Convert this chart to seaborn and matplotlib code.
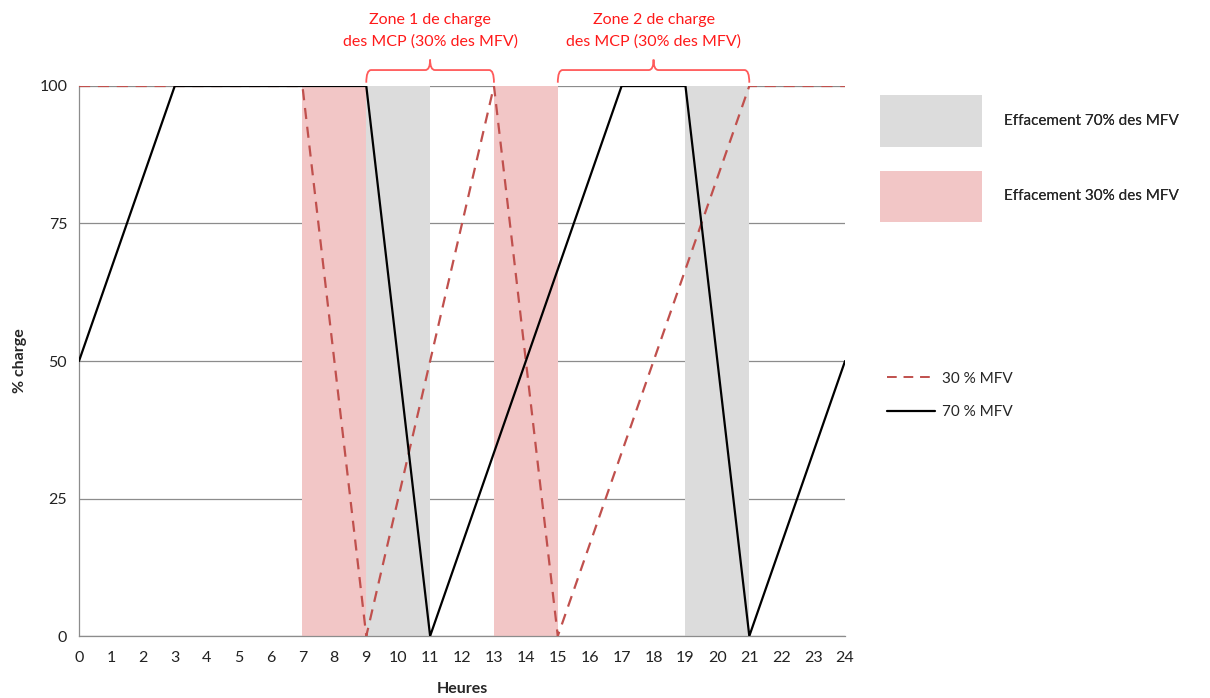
import matplotlib
matplotlib.use('Agg')
import matplotlib.pyplot as plt
from matplotlib.path import Path
from matplotlib.patches import PathPatch, Patch
from matplotlib.lines import Line2D
import seaborn as sns
import pandas as pd

# Données : % de charge selon l'heure
heures_70 = [0, 3, 9, 11, 17, 19, 21, 24]
charge_70 = [50, 100, 100, 0, 100, 100, 0, 50]
heures_30 = [0, 7, 9, 13, 15, 21, 24]
charge_30 = [100, 100, 0, 100, 0, 100, 100]

# Zones d'effacement (début, fin)
effacement_30 = [(7, 9), (13, 15)]
effacement_70 = [(9, 11), (19, 21)]

# Zones de charge des MCP (accolades)
zones_charge = [(9, 13, "Zone 1 de charge\ndes MCP (30% des MFV)"),
                (15, 21, "Zone 2 de charge\ndes MCP (30% des MFV)")]

sns.set_style("white")
plt.rcParams['font.family'] = ['Lato', 'DejaVu Sans']

rouge_fond = '#f2c6c6'
gris_fond = '#dcdcdc'
rouge_ligne = '#c0504d'
tirets = (0, (5, 3.5))

fig = plt.figure(figsize=(12.1, 6.98), dpi=100)
ax = fig.add_axes([0.0653, 0.0888, 0.6331, 0.7880])

for debut, fin in effacement_30:
    ax.axvspan(debut, fin, color=rouge_fond, lw=0, zorder=1)
for debut, fin in effacement_70:
    ax.axvspan(debut, fin, color=gris_fond, lw=0, zorder=1)

df_70 = pd.DataFrame({'Heures': heures_70, 'charge': charge_70})
df_30 = pd.DataFrame({'Heures': heures_30, 'charge': charge_30})

sns.lineplot(data=df_30, x='Heures', y='charge', ax=ax, color=rouge_ligne,
             lw=1.6, linestyle=tirets, zorder=3)
sns.lineplot(data=df_70, x='Heures', y='charge', ax=ax, color='black',
             lw=1.6, zorder=4)

ax.set_xlim(0, 24)
ax.set_ylim(0, 100)
ax.set_xticks(range(0, 25))
ax.set_yticks([0, 25, 50, 75, 100])
ax.yaxis.grid(True, color='#8c8c8c', lw=0.9, zorder=0)
ax.set_axisbelow(True)
for cote in ['top', 'right']:
    ax.spines[cote].set_visible(False)
for cote in ['left', 'bottom']:
    ax.spines[cote].set_color('#8c8c8c')
    ax.spines[cote].set_linewidth(0.9)
ax.tick_params(axis='both', direction='out', length=5, width=0.9,
               color='#8c8c8c', labelsize=11.5, labelcolor='#222222')
ax.tick_params(axis='x', pad=6)
ax.set_xlabel('Heures', fontsize=11.5, fontweight='bold', labelpad=12)
ax.set_ylabel('% charge', fontsize=11.5, fontweight='bold', labelpad=9)

# Accolades et textes des zones de charge
for x0, x1, texte in zones_charge:
    xc = (x0 + x1) / 2
    yb, yh, yp = 100.6, 102.9, 104.8
    d = 0.15
    sommets = [(x0, yb), (x0, yh), (x0 + d, yh),
               (xc - d, yh), (xc, yh), (xc, yp),
               (xc, yh), (xc + d, yh),
               (x1 - d, yh), (x1, yh), (x1, yb)]
    codes = [Path.MOVETO, Path.CURVE3, Path.CURVE3,
             Path.LINETO, Path.CURVE3, Path.CURVE3,
             Path.CURVE3, Path.CURVE3,
             Path.LINETO, Path.CURVE3, Path.CURVE3]
    ax.add_patch(PathPatch(Path(sommets, codes), fill=False, ec='#ff5a5a',
                           lw=1.3, clip_on=False, zorder=5))
    ax.text(xc, 110.0, texte, ha='center', va='center', color='#ff1a1a',
            fontsize=11.5, linespacing=1.6, clip_on=False)

# Légendes
poignees_zones = [Patch(facecolor=gris_fond, edgecolor='none'),
                  Patch(facecolor=rouge_fond, edgecolor='none')]
leg1 = fig.legend(poignees_zones,
                  ['Effacement 70% des MFV', 'Effacement 30% des MFV'],
                  loc='upper left', bbox_to_anchor=(0.716, 0.883),
                  frameon=False, fontsize=11, handlelength=6.7,
                  handleheight=4.8, labelspacing=1.55, handletextpad=1.4)
poignees_lignes = [Line2D([], [], color=rouge_ligne, lw=1.4, linestyle=tirets),
                   Line2D([], [], color='black', lw=1.6)]
leg2 = fig.legend(poignees_lignes, ['30 % MFV', '70 % MFV'],
                  loc='upper left', bbox_to_anchor=(0.722, 0.487),
                  frameon=False, fontsize=11, handlelength=3.1,
                  labelspacing=1.25, handletextpad=0.5)
fig.add_artist(leg1)

fig.savefig('out.png', dpi=100)
